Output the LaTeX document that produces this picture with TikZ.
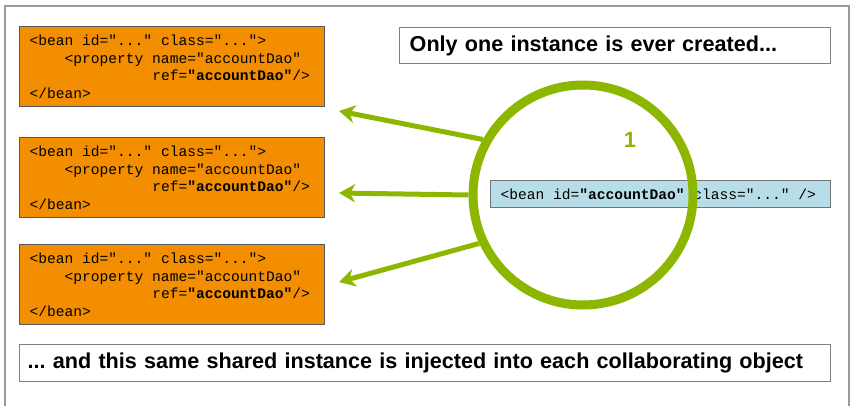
\documentclass[tikz,border=0pt]{standalone}
\usepackage{fontspec}
\setsansfont{Liberation Sans}
\setmonofont{Liberation Mono}
\frenchspacing
\usetikzlibrary{arrows.meta}
\definecolor{springgreen}{RGB}{141,182,0}
\definecolor{beanorange}{RGB}{242,142,0}
\definecolor{daoblue}{RGB}{183,221,232}
\newcommand{\ttspaces}{\spaceskip=0.6em\xspaceskip=0.6em\relax}
\newcommand{\beanxml}{\ttspaces<bean id="..." class="...">\\
\hphantom{xxxx}<property name="accountDao"\\
\hphantom{xxxxxxxxxxxxxx}ref=\textbf{"accountDao"}/>\\
</bean>}
\begin{document}
\begin{tikzpicture}[x=1pt, y=-1pt, inner sep=0pt,
      bean/.style={draw=black!65, line width=1.2pt, fill=beanorange, anchor=north west, align=left,
         text width=285pt, inner xsep=10pt, minimum height=80pt, font=\ttfamily\fontsize{14.6}{17.5}\selectfont},
      note/.style={draw=black!50, line width=1.4pt, fill=white, anchor=north west, align=left,
         inner xsep=10pt, font=\sffamily\bfseries\fontsize{21.6}{26}\selectfont},
      inject/.style={springgreen, line width=5pt, -{Stealth[length=16pt, width=18pt, inset=5pt]}}]
      \useasboundingbox (0,0) rectangle (851,405);
      \draw[black!40, line width=1.5pt] (5,6) rectangle (849,412);
      \node[bean] (bean0) at (19,26) {\beanxml};
      \node[bean] (bean1) at (19,137) {\beanxml};
      \node[bean] (bean2) at (19,244) {\beanxml};
      \node[note, text width=411pt, minimum height=36pt] (once) at (399,27) {Only one instance is ever created...};
      \node[note, text width=795pt, inner xsep=8pt, minimum height=37pt] (shared) at (19,344)
         {... and this same shared instance is injected into each collaborating object};
      \node[draw=black!55, line width=1.2pt, fill=daoblue, anchor=north west, align=left, text width=320pt,
         inner xsep=10pt, minimum height=27pt, font=\ttfamily\fontsize{14.6}{17.5}\selectfont] (dao) at (490,180)
         {\ttspaces<bean id=\textbf{"accountDao"} class="..." />};
      \node[circle, draw=springgreen, line width=9pt, minimum size=220pt] (ring) at (583,195) {};
      \node[springgreen, font=\sffamily\bfseries\fontsize{22}{26}\selectfont] (cnt) at (630,140) {1};
      \coordinate (t0) at (339,111);
      \coordinate (t1) at (339,193);
      \coordinate (t2) at (339,282);
      \draw[inject] (ring.151.6) -- (t0);
      \draw[inject] (ring.180) -- (t1);
      \draw[inject] (ring.205.6) -- (t2);
   \end{tikzpicture}
\end{document}
